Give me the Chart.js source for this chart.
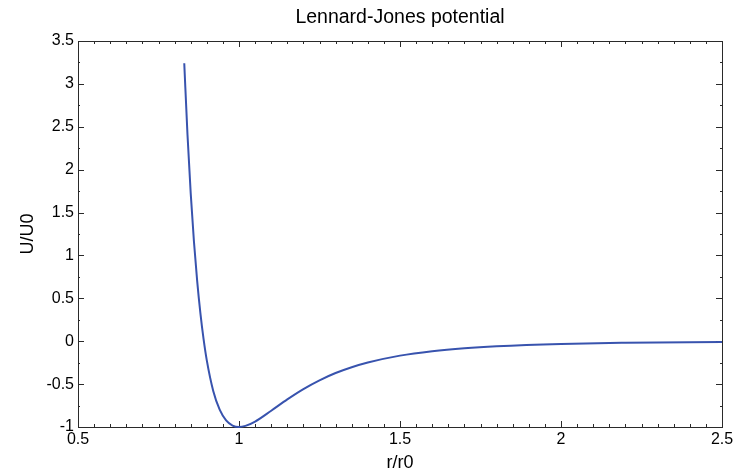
<!DOCTYPE html>
<html>
<head>
<meta charset="utf-8">
<script src="https://cdn.jsdelivr.net/npm/chart.js@4/dist/chart.umd.min.js"></script>
<style>
  html, body { margin: 0; padding: 0; background: #fff; }
  #c { display: block; }
</style>
</head>
<body>
<canvas id="c" width="737" height="474"></canvas>
<script>
// Values
const rValues = [0.83, 0.84, 0.85, 0.86, 0.87, 0.88, 0.89, 0.90, 0.92, 0.94, 0.96, 0.98, 1.00,
                 1.02, 1.05, 1.10, 1.15, 1.20, 1.25, 1.30, 1.35, 1.40, 1.50, 1.60, 1.70, 1.80,
                 2.00, 2.20, 2.50];
const uValues = [3.24, 2.41, 1.727, 1.166, 0.706, 0.330, 0.024, -0.223, -0.579, -0.798, -0.923, -0.983, -1.0,
                 -0.987, -0.936, -0.810, -0.678, -0.558, -0.456, -0.371, -0.303, -0.248, -0.168, -0.116, -0.081, -0.058,
                 -0.031, -0.018, -0.008];
const xTickLabels = ['0.5', '1', '1.5', '2', '2.5'];
const yTickLabels = ['-1', '-0.5', '0', '0.5', '1', '1.5', '2', '2.5', '3', '3.5'];

const FONT = 'Liberation Sans, Arial, Helvetica, sans-serif';

const frameTicks = {
  id: 'frameTicks',
  beforeDatasetsDraw(chart) {
    const { ctx, chartArea: a, scales: { x, y } } = chart;
    ctx.save();
    ctx.lineWidth = 1;
    ctx.strokeStyle = '#2a2a2a';
    ctx.strokeRect(Math.round(a.left) + 0.5, Math.round(a.top) + 0.5,
                   Math.round(a.right - a.left), Math.round(a.bottom - a.top));
    ctx.beginPath();
    // x ticks: minor every 0.05, major every 0.5
    for (let i = 0; i <= 40; i++) {
      const v = x.min + i * 0.05;
      const major = i % 10 === 0;
      const len = major ? 6 : 3;
      const px = Math.round(x.getPixelForValue(v)) + 0.5;
      ctx.moveTo(px, a.bottom); ctx.lineTo(px, a.bottom - len);
      ctx.moveTo(px, a.top); ctx.lineTo(px, a.top + len);
    }
    // y ticks: minor every 0.25, major every 0.5
    for (let i = 0; i <= 18; i++) {
      const v = y.min + i * 0.25;
      const major = i % 2 === 0;
      const len = major ? 6 : 2;
      const py = Math.round(y.getPixelForValue(v)) + 0.5;
      ctx.moveTo(a.left, py); ctx.lineTo(a.left + len, py);
      ctx.moveTo(a.right, py); ctx.lineTo(a.right - len, py);
    }
    ctx.stroke();
    ctx.restore();
  }
};

new Chart(document.getElementById('c'), {
  type: 'line',
  data: {
    datasets: [{
      data: rValues.map((r, i) => ({ x: r, y: uValues[i] })),
      borderColor: '#3853ae',
      borderWidth: 2,
      pointRadius: 0,
      fill: false,
      cubicInterpolationMode: 'monotone',
      clip: false
    }]
  },
  options: {
    responsive: false,
    devicePixelRatio: 1,
    animation: false,
    layout: { padding: { left: 0, right: 15, top: 0, bottom: 0 } },
    plugins: {
      legend: { display: false },
      tooltip: { enabled: false },
      title: {
        display: true,
        fullSize: false,
        text: 'Lennard-Jones potential',
        color: '#000',
        font: { family: FONT, size: 19.5, weight: 'normal', lineHeight: 1.2 },
        padding: { top: 6, bottom: 11.6 }
      }
    },
    scales: {
      x: {
        type: 'linear',
        min: 0.5, max: 2.5,
        border: { display: false },
        grid: { display: false, drawTicks: false },
        ticks: {
          stepSize: 0.5,
          maxRotation: 0,
          autoSkip: false,
          padding: 3,
          color: '#000',
          font: { family: FONT, size: 16 },
          callback: (v) => { const k = Math.round((v - 0.5) / 0.5); return xTickLabels[k] ?? ''; }
        },
        title: {
          display: true,
          text: 'r/r0',
          color: '#000',
          font: { family: FONT, size: 18, lineHeight: 1.2 },
          padding: { top: 0, bottom: 0.5 }
        },
        afterFit: (s) => { s.height = 47; }
      },
      y: {
        type: 'linear',
        min: -1, max: 3.5,
        border: { display: false },
        grid: { display: false, drawTicks: false },
        ticks: {
          stepSize: 0.5,
          autoSkip: false,
          padding: 4,
          color: '#000',
          font: { family: FONT, size: 16 },
          callback: (v) => { const k = Math.round((v + 1) / 0.5); return yTickLabels[k] ?? ''; }
        },
        title: {
          display: true,
          text: 'U/U0',
          color: '#000',
          font: { family: FONT, size: 18, lineHeight: 1.2 },
          padding: { top: 17, bottom: 0 }
        },
        afterFit: (s) => { s.width = 78; }
      }
    }
  },
  plugins: [frameTicks]
});
</script>
</body>
</html>
